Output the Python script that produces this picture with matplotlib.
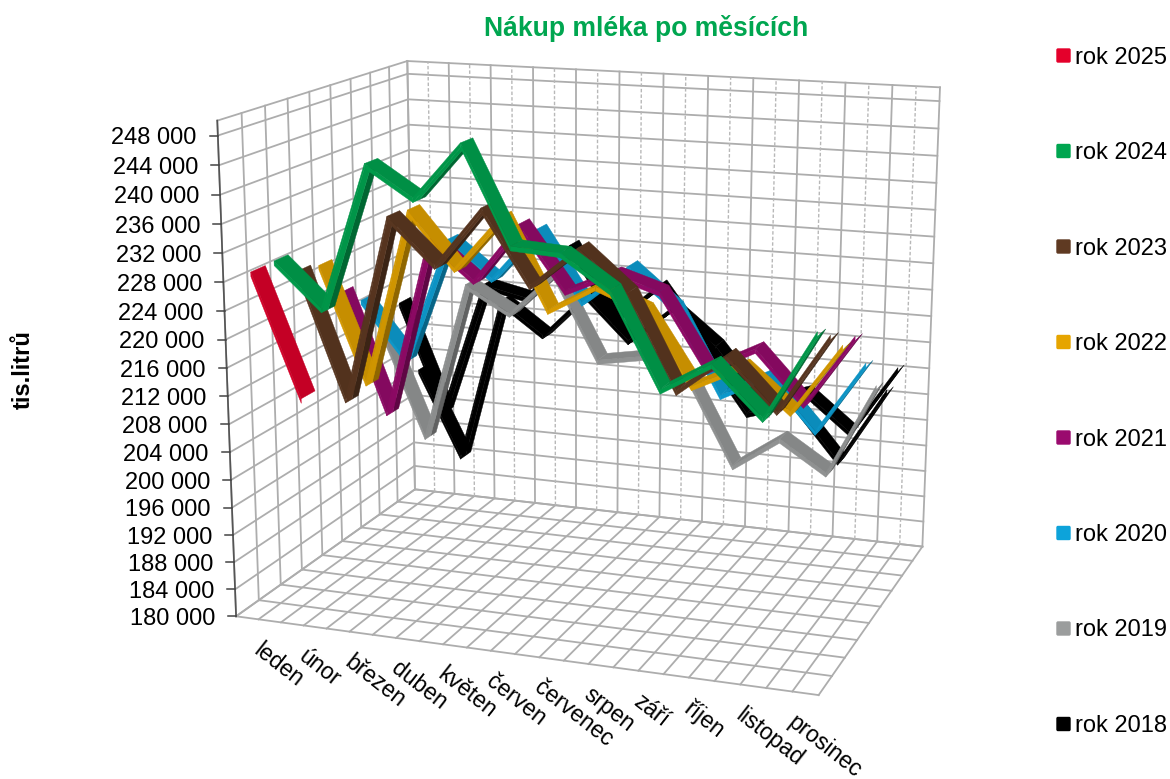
import numpy as np
import matplotlib
matplotlib.use("Agg")
import matplotlib.pyplot as plt
from matplotlib.patches import Polygon, FancyBboxPatch

plt.rcParams['font.family'] = ['Liberation Sans', 'DejaVu Sans']

months = ["leden", "únor", "březen", "duben", "květen", "červen", "červenec",
          "srpen", "září", "říjen", "listopad", "prosinec"]
series_names = ["rok 2025", "rok 2024", "rok 2023", "rok 2022", "rok 2021", "rok 2020", "rok 2019", "rok 2018"]
colors = ["#E4002B", "#00A650", "#5F3A22", "#E6A500", "#9A0A6E", "#0DA3DA", "#9B9D9D", "#000000", "#000000"]

rok_2025 = [229400, 212300]
rok_2024 = [229500, 223400, 243900, 239700, 247500, 234100, 233700, 229200, 216400, 220500, 213900, 226000]
rok_2023 = [226600, 208700, 235400, 229100, 237500, 227300, 233000, 227300, 214400, 219900, 213000, 223900]
rok_2022 = [226000, 209400, 235000, 227200, 235000, 222300, 226200, 223500, 213300, 216700, 211000, 220900]
rok_2021 = [220500, 203100, 229400, 224000, 232600, 223500, 226600, 224500, 213900, 217500, 210300, 220500]
rok_2020 = [217800, 209500, 228000, 222800, 230500, 220400, 226100, 220600, 208400, 212000, 204500, 215000]
rok_2019 = [211600, 195600, 219800, 216000, 222600, 210000, 211200, 208500, 195900, 200700, 196300, 210000]
rok_2018 = [214300, 197800, 218300, 216800, 225400, 214500, 220300, 211300, 202000, 204200, 196100, 207600]
# ninth black line, its legend entry is cut off in the original
rok_2017 = [201900, 188500, 214200, 209400, 216300, 209700, 215400, 210000, 201700, 204100, 198600, 209200]
all_series = [rok_2025, rok_2024, rok_2023, rok_2022, rok_2021, rok_2020, rok_2019, rok_2018, rok_2017]

v_min = 180000
v_max = 250000
v_step = 4000
n_depth = len(all_series)

# box corners in pixels: (month, depth, share of value range) -> (x, y)
corners = [
    ((0, 0, 0), (236, 616.3)), ((0, 0, 1), (217.3, 120.7)),
    ((0, 9, 0), (415, 489.3)), ((0, 9, 1), (407.3, 61)),
    ((12, 9, 0), (922.3, 546.7)), ((12, 9, 1), (940, 87.3)),
    ((12, 0, 0), (818.7, 695)),
]

A = []
b = []
for (X, Y, Z), (u, v) in corners:
    A.append([1, X, Y, Z, 0, 0, 0, 0, -u*X, -u*Y, -u*Z])
    b.append(u)
    A.append([0, 0, 0, 0, 1, X, Y, Z, -v*X, -v*Y, -v*Z])
    b.append(v)
h = np.linalg.lstsq(np.array(A, float), np.array(b, float), rcond=None)[0]


def project(m, d, val):
    z = (val - v_min) / (v_max - v_min)
    w = 1 + h[8]*m + h[9]*d + h[10]*z
    return ((h[0] + h[1]*m + h[2]*d + h[3]*z) / w,
            (h[4] + h[5]*m + h[6]*d + h[7]*z) / w)


fig = plt.figure(figsize=(11.7, 7.79), dpi=100)
ax = fig.add_axes([0, 0, 1, 1])
ax.set_xlim(0, 1170)
ax.set_ylim(779, 0)
ax.axis('off')

grid_col = "#adadad"
grid_lw = 1.3


def seg(p, q, **kw):
    a = project(*p)
    c = project(*q)
    ax.plot([a[0], c[0]], [a[1], c[1]], **kw)


# walls and floor
for val in list(range(v_min, v_max, v_step)) + [v_max]:
    seg((0, 0, val), (0, 9, val), color=grid_col, lw=grid_lw)
    seg((0, 9, val), (12, 9, val), color=grid_col, lw=grid_lw)
for d in range(10):
    seg((0, d, v_min), (0, d, v_max), color=grid_col, lw=grid_lw)
    seg((0, d, v_min), (12, d, v_min), color=grid_col, lw=grid_lw)
for k in range(25):
    seg((k/2, 0, v_min), (k/2, 9, v_min), color=grid_col, lw=grid_lw)
    if k % 2 == 0:
        seg((k/2, 9, v_min), (k/2, 9, v_max), color=grid_col, lw=grid_lw)
    else:
        seg((k/2, 9, v_min), (k/2, 9, v_max), color="#b8b8b8", lw=1.0, ls=(0, (2.5, 1.5)))

# value axis
seg((0, 0, v_min), (0, 0, v_max), color="#555555", lw=1.2)
for val in range(v_min, v_max, v_step):
    x, y = project(0, 0, val)
    ax.plot([x - 8, x], [y, y], color="#444444", lw=1.1)
    ax.text(x - 21, y + 2.5, f"{val:,}".replace(",", " "), ha='right', va='center', fontsize=17)


def shade(col, f):
    return tuple(np.array(matplotlib.colors.to_rgb(col)) * f)


def face(points, col):
    ax.add_patch(Polygon(points, closed=True, fc=col, ec=col, lw=.3, zorder=3))


half = 0.31
thick = 650

# back to front, left to right
for i in range(n_depth - 1, -1, -1):
    vals = all_series[i]
    col = colors[i]
    d0, dm, d1 = i + .5 - half, i + .5, i + .5 + half
    for j in range(len(vals) - 1):
        m0, m1 = j + .5, j + 1.5
        v0, v1 = vals[j], vals[j + 1]
        top = [project(m0, d0, v0), project(m1, d0, v1), project(m1, d1, v1), project(m0, d1, v0)]
        front = [top[0], top[1], project(m1, d0, v1 - thick), project(m0, d0, v0 - thick)]
        ux, uy = top[1][0] - top[0][0], top[1][1] - top[0][1]
        wx, wy = top[3][0] - top[0][0], top[3][1] - top[0][1]
        if ux*wy - uy*wx < 0:
            face(front, shade(col, .93))
            face(top, shade(col, .86))
        else:
            # seen from below: lit front half, dark back half
            low0 = [project(m0, d0, v0 - thick), project(m1, d0, v1 - thick), project(m1, dm, v1 - thick), project(m0, dm, v0 - thick)]
            low1 = [project(m0, dm, v0 - thick), project(m1, dm, v1 - thick), project(m1, d1, v1 - thick), project(m0, d1, v0 - thick)]
            face(low1, shade(col, .62))
            face(low0, shade(col, .9))
            face(front, shade(col, .9))

for j, name in enumerate(months):
    x, y = project(j + .5, 0, v_min)
    ax.text(x + 5, y + 19, name, rotation=-38, rotation_mode='anchor', ha='left', va='top', fontsize=16.5)

ax.text(646, 28, "Nákup mléka po měsících", ha='center', va='center', fontsize=19.1, fontweight='bold', color="#00A650")
ax.text(23, 370, "tis.litrů", rotation=90, ha='center', va='center', fontsize=17, fontweight='bold')

legend_y = [55.5, 151, 246.5, 342, 437.5, 533, 628.5, 724]
for y, name, col in zip(legend_y, series_names, colors):
    ax.add_patch(FancyBboxPatch((1057, y - 6.5), 13, 13, boxstyle="round,pad=0,rounding_size=1", fc=col, ec=col, lw=1))
    ax.text(1075, y + 2, name, ha='left', va='center', fontsize=17)

fig.savefig("out.png", dpi=100)
